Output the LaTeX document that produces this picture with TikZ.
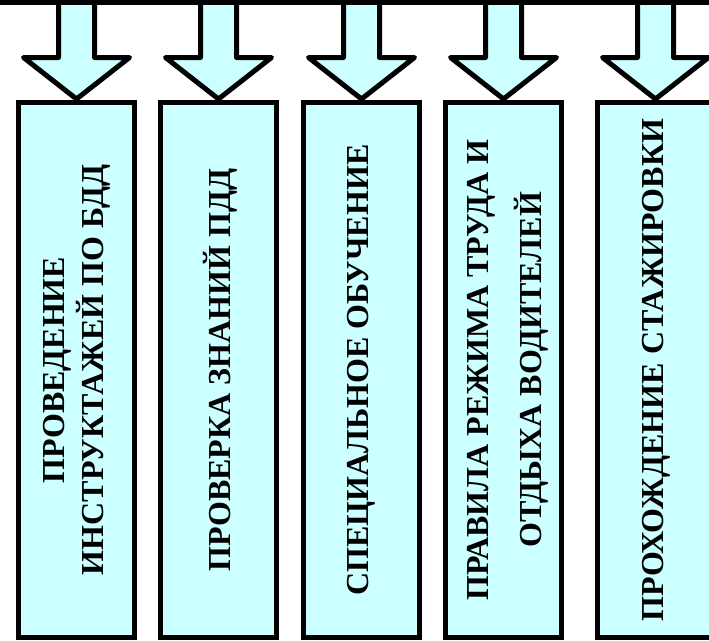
\documentclass[tikz,border=0pt]{standalone}
\usepackage{fontspec}
\setmainfont{Liberation Serif}
\usepackage{xcolor}
\usetikzlibrary{positioning}
\definecolor{palecyan}{RGB}{204,255,255}

\begin{document}
\begin{tikzpicture}[x=1pt,y=1pt,
        box/.style={draw, line width=5pt, fill=palecyan, minimum width=116pt, minimum height=535pt, inner sep=0pt},
        boxtext/.style={rotate=90, align=center, font=\bfseries\fontsize{32}{39}\selectfont},
        blockarrow/.style={draw, line width=5pt, fill=palecyan, line join=round}]
        \useasboundingbox (0,0) rectangle (709,-640);
        \coordinate (barl) at (0,-2.5);
        \coordinate (barr) at (709,-2.5);

        % boxes
        \node[box] (b1) at (76.5,-370) {};
        \node[box, right=21pt of b1] (b2) {};
        \node[box, right=22pt of b2] (b3) {};
        \node[box, right=21pt of b3] (b4) {};
        \node[box, right=31pt of b4] (b5) {};

        \node[boxtext] (t1) at (b1) {ПРОВЕДЕНИЕ\\ИНСТРУКТАЖЕЙ ПО БДД};
        \node[boxtext] (t2) at ([xshift=2pt]b2.center) {ПРОВЕРКА ЗНАНИЙ ПДД};
        \node[boxtext] (t3) at (b3) {СПЕЦИАЛЬНОЕ ОБУЧЕНИЕ};
        \node[boxtext] (t4) at ([xshift=4pt]b4.center) {ПРАВИЛА РЕЖИМА ТРУДА И\\[14pt]ОТДЫХА ВОДИТЕЛЕЙ};
        \node[boxtext] (t5) at ([xshift=1pt]b5.center) {ПРОХОЖДЕНИЕ СТАЖИРОВКИ};

        % arrows from the bar
        \foreach \b in {b1,b2,b3,b4,b5}
            \draw[blockarrow] (\b.north) ++(-18,102) -- ++(0,-59.5) -- ++(-35,0)
                -- ++(53,-41.5) -- ++(53,41.5) -- ++(-35,0) -- ++(0,59.5);

        \draw[line width=5pt] (barl) -- (barr);
\end{tikzpicture}
\end{document}
